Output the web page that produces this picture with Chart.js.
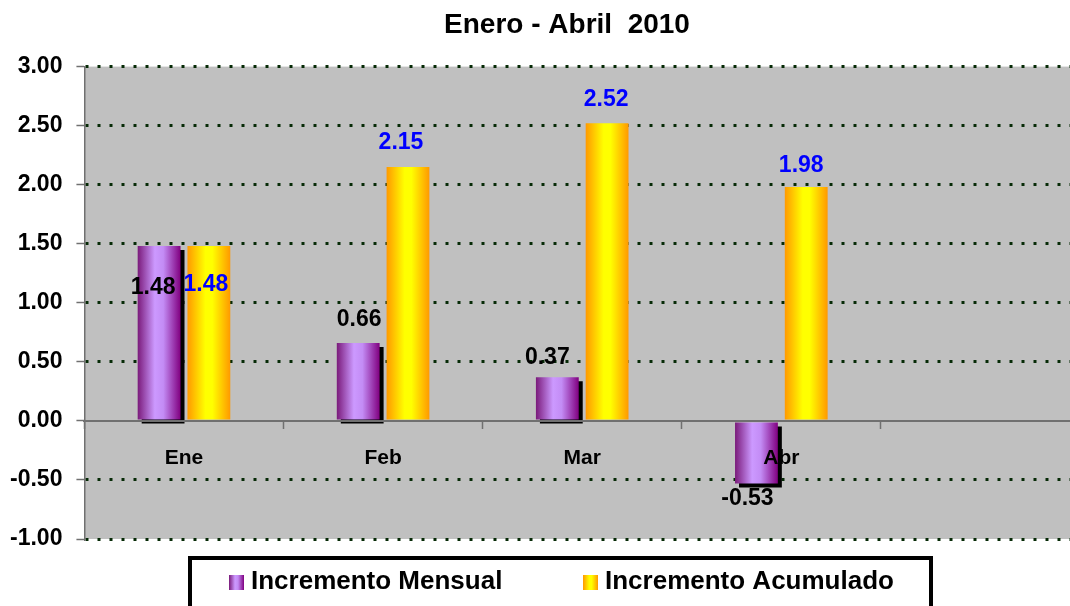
<!DOCTYPE html>
<html>
<head>
<meta charset="utf-8">
<title>Enero - Abril 2010</title>
<script src="https://cdn.jsdelivr.net/npm/chart.js@4.4.1/dist/chart.umd.min.js"></script>
<style>
  html, body { margin: 0; padding: 0; background: #fff; }
  #wrap { width: 1070px; height: 606px; overflow: hidden; }
  canvas { display: block; }
</style>
</head>
<body>
<div id="wrap"><canvas id="chart" width="1080" height="606"></canvas></div>
<script>
// data
const categories = ['Ene', 'Feb', 'Mar', 'Abr', ''];
const mensual = [1.48, 0.66, 0.37, -0.53, null];
const acumulado = [1.48, 2.15, 2.52, 1.98, null];
const seriesNames = ['Incremento Mensual', 'Incremento Acumulado'];
const yMin = -1, yMax = 3, yStep = 0.5;

// styling
const FONT = '"Liberation Sans", Arial, sans-serif';
const gridGreen = '#062a06';
const axisGray = '#707070';
const labelColors = ['#000000', '#0000ff'];
const gradStops = [
   [[0, '#7a1a7a'], [0.4, '#cc99ff'], [0.6, '#c38cf5'], [1, '#800080']],
   [[0, '#ff9900'], [0.42, '#ffff00'], [0.58, '#ffff00'], [1, '#ff9900']]
];
// label nudges [dx, dy] from bar end, Excel had some of them dragged around
const labelNudge = [
   [[-6, 42], [1, -23], [-10, -20], [-9, 15]],
   [[-3, 39], [-7, -24], [-1, -24], [-5, -21]]
];

function barGradient(ctx, i, x0, w) {
   let g = ctx.createLinearGradient(x0, 0, x0 + w, 0);
   gradStops[i].forEach((s) => g.addColorStop(s[0], s[1]));
   return g;
}

const plotBackground = {
   id: 'plotBackground',
   beforeDraw(chart) {
      const { ctx, chartArea: a } = chart;
      ctx.save();
      ctx.fillStyle = '#c0c0c0';
      ctx.fillRect(a.left, a.top, a.right - a.left, a.bottom - a.top);
      ctx.restore();
   }
};

const barLook = {
   id: 'barLook',
   beforeDatasetsDraw(chart) {
      chart.data.datasets.forEach((ds, i) => {
         chart.getDatasetMeta(i).data.forEach((el) => {
            if (!el.width) return;
            const g = barGradient(chart.ctx, i, el.x - el.width / 2, el.width);
            el.options = Object.assign({}, el.options, { backgroundColor: g });
         });
      });
   },
   beforeDatasetDraw(chart, args) {
      if (args.index !== 0) return;
      const ctx = chart.ctx;
      ctx.save();
      ctx.shadowColor = '#000';
      ctx.shadowBlur = 0;
      ctx.shadowOffsetX = 4;
      ctx.shadowOffsetY = 4;
   },
   afterDatasetDraw(chart, args) {
      if (args.index === 0) chart.ctx.restore();
   }
};

const valueLabels = {
   id: 'valueLabels',
   afterDatasetsDraw(chart) {
      const ctx = chart.ctx;
      ctx.save();
      ctx.font = 'bold 23px ' + FONT;
      ctx.textAlign = 'center';
      ctx.textBaseline = 'middle';
      chart.data.datasets.forEach((ds, i) => {
         ctx.fillStyle = labelColors[i];
         chart.getDatasetMeta(i).data.forEach((el, j) => {
            const v = ds.data[j];
            if (v === null || v === undefined) return;
            const n = labelNudge[i][j];
            ctx.fillText(v.toFixed(2), el.x + n[0], el.y + n[1]);
         });
      });
      ctx.restore();
   }
};

// the original chart was wider than the crop, so the title sits right of centre
const titleNudge = {
   id: 'titleNudge',
   afterLayout(chart) {
      chart.titleBlock.left += 58;
   }
};

const boxLegend = {
   id: 'boxLegend',
   afterDraw(chart) {
      const ctx = chart.ctx;
      const itemX = [229, 583];
      ctx.save();
      ctx.lineWidth = 4;
      ctx.strokeStyle = '#000';
      ctx.strokeRect(190, 558, 741, 80);
      ctx.font = 'bold 26px ' + FONT;
      ctx.textBaseline = 'middle';
      chart.data.datasets.forEach((ds, i) => {
         const x = itemX[i];
         ctx.fillStyle = barGradient(ctx, i, x, 15);
         ctx.fillRect(x, 575, 15, 15);
         ctx.fillStyle = '#000';
         ctx.fillText(ds.label, x + 22, 582);
      });
      ctx.restore();
   }
};

new Chart(document.getElementById('chart'), {
   type: 'bar',
   data: {
      labels: categories,
      datasets: [
         {
            label: seriesNames[0],
            data: mensual,
            backgroundColor: () => '#b070d0',
            borderWidth: 0,
            categoryPercentage: 0.5,
            barPercentage: 0.86
         },
         {
            label: seriesNames[1],
            data: acumulado,
            backgroundColor: () => '#ffcc00',
            borderWidth: 0,
            categoryPercentage: 0.5,
            barPercentage: 0.86
         }
      ]
   },
   options: {
      responsive: false,
      animation: false,
      devicePixelRatio: 1,
      layout: { padding: { left: -4, right: 0, top: 0, bottom: 67 } },
      plugins: {
         legend: { display: false },
         tooltip: { enabled: false },
         title: {
            display: true,
            text: 'Enero - Abril  2010',
            color: '#000',
            font: { family: FONT, size: 28, weight: 'bold' },
            padding: { top: 8, bottom: 25 }
         }
      },
      scales: {
         x: {
            position: { y: 0 },
            grid: {
               display: true,
               drawOnChartArea: false,
               offset: true,
               tickLength: 7,
               tickColor: axisGray,
               tickWidth: 1.5,
               color: axisGray,
               z: 1
            },
            border: { display: true, color: axisGray, width: 2, z: 1 },
            ticks: {
               color: '#000',
               font: { family: FONT, size: 21, weight: 'bold' },
               padding: 18,
               maxRotation: 0,
               z: 1
            }
         },
         y: {
            min: yMin,
            max: yMax,
            ticks: {
               stepSize: yStep,
               color: '#000',
               font: { family: FONT, size: 23, weight: 'bold' },
               padding: 14,
               callback: (v) => v.toFixed(2)
            },
            grid: {
               color: (c) => (c.tick && c.tick.value === 0 ? 'rgba(0,0,0,0)' : gridGreen),
               lineWidth: 3,
               tickLength: 8,
               tickColor: axisGray,
               tickWidth: 1.5,
               tickBorderDash: []
            },
            border: { display: true, color: axisGray, width: 1.5, dash: [3, 9] }
         }
      }
   },
   plugins: [plotBackground, barLook, valueLabels, titleNudge, boxLegend]
});
</script>
</body>
</html>
